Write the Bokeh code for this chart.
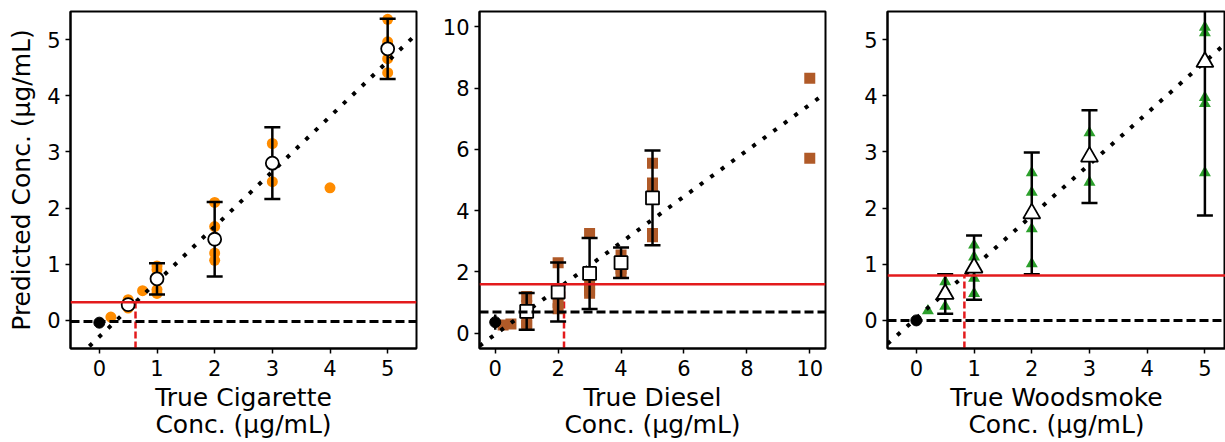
from bokeh.plotting import figure
from bokeh.layouts import row
from bokeh.models import Range1d, Span, FixedTicker
from bokeh.embed import file_html
from bokeh.resources import INLINE

FONT = "DejaVu Sans"
RED = "#e31a1c"

# ---- Cigarette ----
cig_rep_x = [0.2, 0.5, 0.5, 0.5, 0.75, 1, 1, 1, 1, 2, 2, 2, 2, 3, 3, 4, 5, 5, 5, 5]
cig_rep_y = [0.06, 0.37, 0.25, 0.22, 0.53, 0.97, 0.9, 0.55, 0.48,
             2.1, 1.67, 1.2, 1.07, 3.15, 2.47, 2.36, 5.36, 4.96, 4.66, 4.41]
cig_mean_x = [0.5, 1, 2, 3, 5]
cig_mean_y = [0.28, 0.74, 1.445, 2.8, 4.835]
cig_err = [0.0, 0.28, 0.665, 0.64, 0.535]
cig_blank = [0.0, -0.04]
cig_blank_err = 0.0
cig_blank_level = -0.02
cig_lod_level = 0.325
cig_fit = [0.98, -0.29]

# ---- Diesel ----
dsl_rep_x = [0.25, 0.5, 1, 1, 1, 1, 2, 2, 2, 2, 3, 3, 3, 3, 4, 4, 4, 4, 5, 5, 5, 5, 5, 10, 10]
dsl_rep_y = [0.27, 0.3, 1.2, 0.9, 0.35, 0.25, 2.3, 1.3, 1.0, 0.8,
             3.25, 1.6, 1.4, 1.3, 2.55, 2.3, 2.1, 1.95,
             5.55, 4.9, 4.8, 3.25, 3.15, 8.32, 5.71]
dsl_mean_x = [1, 2, 3, 4, 5]
dsl_mean_y = [0.71, 1.345, 1.95, 2.3, 4.415]
dsl_err = [0.6, 0.965, 1.16, 0.5, 1.545]
dsl_blank = [0.0, 0.36]
dsl_blank_err = 0.25
dsl_blank_level = 0.69
dsl_lod_level = 1.6
dsl_fit = [0.75, -0.04]

# ---- Woodsmoke ----
wds_rep_x = [0.2, 0.5, 0.5, 1, 1, 1, 1, 2, 2, 2, 2, 3, 3, 5, 5, 5, 5, 5]
wds_rep_y = [0.17, 0.69, 0.25, 1.34, 1.13, 0.75, 0.48, 2.63, 2.28, 1.63, 1.01,
             3.34, 2.46, 5.22, 5.12, 3.97, 3.86, 2.63]
wds_mean_x = [0.5, 1, 2, 3, 5]
wds_mean_y = [0.47, 0.94, 1.905, 2.915, 4.6]
wds_err = [0.35, 0.57, 1.085, 0.825, 2.73]
wds_blank = [0.0, 0.0]
wds_blank_err = 0.0
wds_blank_level = 0.0
wds_lod_level = 0.8
wds_fit = [0.913, 0.04]

tick_unit = [0, 1, 2, 3, 4, 5]
tick_even = [0, 2, 4, 6, 8, 10]


def panel(width, border_left, border_right, xr, yr, xticks, yticks, xlabel, ylabel,
          rep_x, rep_y, rep_color, rep_marker, rep_size,
          mean_x, mean_y, err, mean_marker, mean_size,
          blank, blank_err, blank_level, lod_level, fit):
    p = figure(width=width, height=442, output_backend="svg", toolbar_location=None,
               x_range=Range1d(*xr), y_range=Range1d(*yr),
               min_border_left=border_left, min_border_right=border_right,
               min_border_top=11, min_border_bottom=92)
    p.xgrid.visible = False
    p.ygrid.visible = False
    p.outline_line_color = "black"
    p.outline_line_width = 2
    p.background_fill_color = "white"
    p.border_fill_color = "white"

    for ax, ticks in ((p.xaxis[0], xticks), (p.yaxis[0], yticks)):
        ax.ticker = FixedTicker(ticks=ticks)
        ax.minor_tick_line_color = None
        ax.major_tick_in = 0
        ax.major_tick_out = 5
        ax.major_tick_line_width = 1.5
        ax.axis_line_width = 2
        ax.major_label_text_font = FONT
        ax.major_label_text_font_size = "21px"
        ax.major_label_text_color = "black"
        ax.major_label_standoff = 5
        ax.axis_label_text_font = FONT
        ax.axis_label_text_font_size = "25px"
        ax.axis_label_text_font_style = "normal"
        ax.axis_label_text_color = "black"
        ax.axis_label_text_line_height = 0.95
    p.xaxis.axis_label = xlabel
    p.xaxis.major_label_standoff = 6
    p.xaxis.axis_label_standoff = 4
    if ylabel:
        p.yaxis.axis_label = ylabel
        p.yaxis.axis_label_standoff = 8

    # horizontal reference levels: blank mean (dashed) and detection limit (red)
    p.add_layout(Span(location=blank_level, dimension="width", line_color="black",
                      line_width=3, line_dash="9 4"))
    p.add_layout(Span(location=lod_level, dimension="width", line_color=RED,
                      line_width=2.5))

    # detection limit projected onto the concentration axis
    slope, intercept = fit
    lod_x = (lod_level - intercept) / slope
    p.segment(x0=[lod_x], y0=[yr[0]], x1=[lod_x], y1=[lod_level],
              line_color=RED, line_width=2.5, line_dash="7 3")

    # replicate measurements
    p.scatter(rep_x, rep_y, marker=rep_marker, size=rep_size,
              fill_color=rep_color, line_color=None)

    # linear calibration fit
    fx = [xr[0], xr[1]]
    fy = [slope * v + intercept for v in fx]
    p.line(fx, fy, line_color="black", line_width=4, line_dash="4 9")

    # error bars for the means
    lo = [m - e for m, e in zip(mean_y, err)]
    hi = [m + e for m, e in zip(mean_y, err)]
    bx = [x for x, e in zip(mean_x, err) if e > 0]
    blo = [l for l, e in zip(lo, err) if e > 0]
    bhi = [h for h, e in zip(hi, err) if e > 0]
    p.segment(x0=bx, y0=blo, x1=bx, y1=bhi, line_color="black", line_width=2.5)
    p.scatter(bx + bx, blo + bhi, marker="dash", size=16, line_color="black",
              line_width=2.5)

    # blank sample
    if blank_err > 0:
        p.segment(x0=[blank[0]], y0=[blank[1] - blank_err], x1=[blank[0]],
                  y1=[blank[1] + blank_err], line_color="black", line_width=2.5)
    p.scatter([blank[0]], [blank[1]], marker="circle", size=11,
              fill_color="black", line_color="black")

    # means
    p.scatter(mean_x, mean_y, marker=mean_marker, size=mean_size,
              fill_color="white", line_color="black", line_width=1.8)
    return p


p1 = panel(426, 70, 10, (-0.5, 5.5), (-0.5, 5.5), tick_unit, tick_unit,
           "True Cigarette\nConc. (μg/mL)", "Predicted Conc. (μg/mL)",
           cig_rep_x, cig_rep_y, "#ff8c00", "circle", 11,
           cig_mean_x, cig_mean_y, cig_err, "circle", 13,
           cig_blank, cig_blank_err, cig_blank_level, cig_lod_level, cig_fit)

p2 = panel(409, 53, 10, (-0.5, 10.5), (-0.5, 10.5), tick_even, tick_even,
           "True Diesel\nConc. (μg/mL)", None,
           dsl_rep_x, dsl_rep_y, "#b05a28", "square", 11,
           dsl_mean_x, dsl_mean_y, dsl_err, "square", 13,
           dsl_blank, dsl_blank_err, dsl_blank_level, dsl_lod_level, dsl_fit)

p3 = panel(390, 52, 0, (-0.5, 5.357), (-0.5, 5.5), tick_unit, tick_unit,
           "True Woodsmoke\nConc. (μg/mL)", None,
           wds_rep_x, wds_rep_y, "#2ca02c", "triangle", 12,
           wds_mean_x, wds_mean_y, wds_err, "triangle", 17,
           wds_blank, wds_blank_err, wds_blank_level, wds_lod_level, wds_fit)

layout = row(p1, p2, p3, spacing=0)
open("out.html", "w").write(file_html(layout, INLINE))
